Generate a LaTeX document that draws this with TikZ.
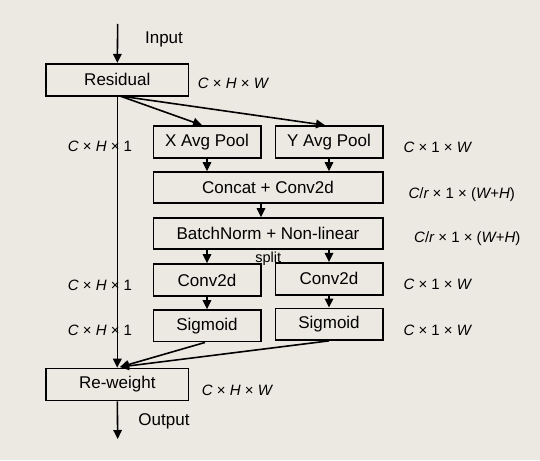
\documentclass[tikz,border=0pt]{standalone}
\usepackage{fontspec}
\setmainfont{Liberation Sans}
\usetikzlibrary{arrows.meta}
\definecolor{bg}{RGB}{236,233,226}
\newcommand{\shp}[3]{{\itshape #1}~×~{\itshape #2}~×~{\itshape #3}}
\begin{document}
\begin{tikzpicture}[x=1pt,y=-1pt,
  box/.style={draw, line width=1.6pt, minimum width=#1, minimum height=32pt,
    inner sep=0pt, font=\fontsize{17}{20}\selectfont},
  box/.default=107.4pt,
  lab/.style={font=\fontsize{15}{18}\selectfont, inner sep=0pt},
  big/.style={font=\fontsize{17}{20}\selectfont, inner sep=0pt},
  arr/.style={line width=1.6pt, -{Triangle[length=9pt,width=8.5pt]}}]
\fill[bg] (0,0) rectangle (540,460);
\useasboundingbox (0,0) rectangle (540,460);

% labels
\node[big] (tin) at (164,39) {Input};
\node[big] (tout) at (164,421.7) {Output};
\node[lab] (d1) at (233,83) {\shp{C}{H}{W}};
\node[lab] (d2) at (100,146.7) {{\itshape C}~×~{\itshape H}~×~1};
\node[lab] (d3) at (437.3,147) {{\itshape C}~×~1~×~{\itshape W}};
\node[lab] (d4) at (461.7,195) {{\itshape C}/{\itshape r}~×~1~×~({\itshape W}+{\itshape H})};
\node[lab] (d5) at (467.3,238.3) {{\itshape C}/{\itshape r}~×~1~×~({\itshape W}+{\itshape H})};
\node[lab, font=\fontsize{14.5}{17}\selectfont] (spl) at (268.3,258.3) {split};
\node[lab] (d6) at (100,285) {{\itshape C}~×~{\itshape H}~×~1};
\node[lab] (d7) at (437.3,284) {{\itshape C}~×~1~×~{\itshape W}};
\node[lab] (d8) at (100,330.7) {{\itshape C}~×~{\itshape H}~×~1};
\node[lab] (d9) at (437.3,330) {{\itshape C}~×~1~×~{\itshape W}};
\node[lab] (d10) at (237,390) {\shp{C}{H}{W}};

% boxes
\node[box=142.7pt] (res) at (117.3,79.7) {Residual};
\node[box] (xp) at (207,142) {X Avg Pool};
\node[box] (yp) at (329,142) {Y Avg Pool};
\node[box=229.4pt, minimum height=31pt] (cat) at (268,187.5) {Concat + Conv2d};
\node[box=229.4pt, minimum height=31pt] (bn) at (268,233.5) {BatchNorm + Non-linear};
\node[box] (c1) at (207,280) {Conv2d};
\node[box] (c2) at (329,278.7) {Conv2d};
\node[box, minimum height=31.7pt] (s1) at (207,325.8) {Sigmoid};
\node[box, minimum height=31.7pt] (s2) at (329,324.2) {Sigmoid};
\node[box=142.7pt] (rw) at (117.3,384.5) {Re-weight};

% connectors
\coordinate (in) at (117.7,24);
\coordinate (out) at (117.7,439);
\coordinate (rs) at (120,96);
\coordinate (rt) at (120,367);
\draw[arr] (in) -- (res.north);
\draw[arr] (res.south) -- (rw.north);
\draw[arr] (rw.south) -- (out);
\draw[arr] (rs) -- ([xshift=-5pt]xp.north);
\draw[arr] (rs) -- ([xshift=-4pt]yp.north);
\draw[arr] (xp.south) -- (xp.south |- cat.north);
\draw[arr] (yp.south) -- (yp.south |- cat.north);
\draw[arr] ([xshift=-7pt]cat.south) -- ([xshift=-7pt]bn.north);
\draw[arr] (bn.south -| c1.north) -- (c1.north);
\draw[arr] (bn.south -| c2.north) -- (c2.north);
\draw[arr] (c1.south) -- (s1.north);
\draw[arr] (c2.south) -- (s2.north);
\draw[arr] ([xshift=-2pt]s1.south) -- (rt);
\draw[arr] (s2.south) -- (rt);
\end{tikzpicture}
\end{document}
